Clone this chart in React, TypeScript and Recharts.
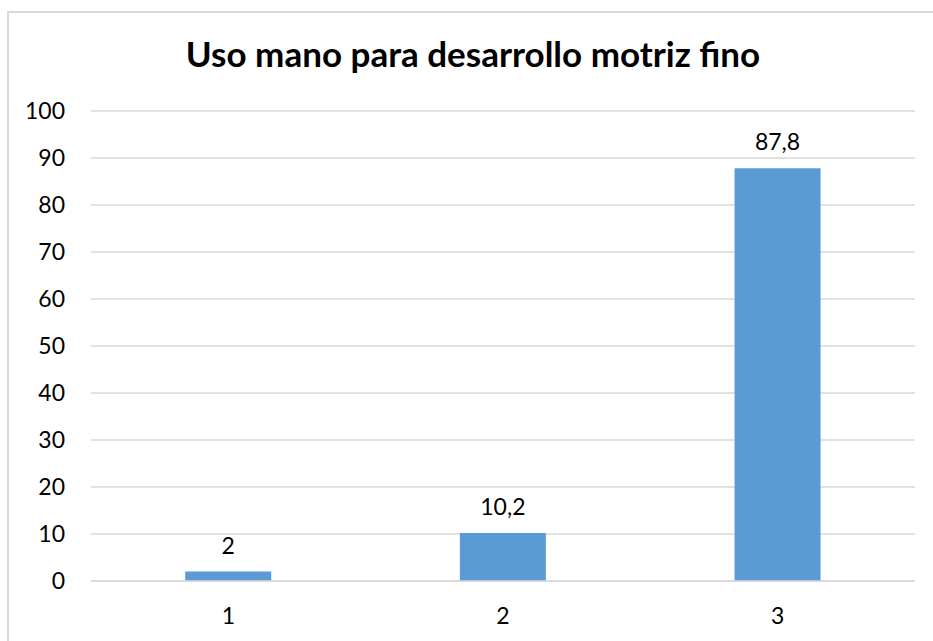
import { BarChart, Bar, XAxis, YAxis, CartesianGrid, LabelList } from 'recharts'

const categories = ['1', '2', '3']
const values = [2, 10.2, 87.8]
const yTicks = [0, 10, 20, 30, 40, 50, 60, 70, 80, 90, 100]
const title = 'Uso mano para desarrollo motriz fino'

const data = categories.map((c, i) => ({ name: c, value: values[i] }))

const FONT = 'Lato, "Open Sans", sans-serif'

export default function App() {
  return (
    <div style={{ position: 'absolute', left: 0, top: 0, width: 933, height: 641, overflow: 'hidden', background: '#fff', fontFamily: FONT }}>
      <div style={{ position: 'absolute', left: 7, top: 11, width: 940, height: 660, border: '2px solid #d9d9d9' }} />
      <div style={{ position: 'absolute', left: 0, width: 946, top: 33, textAlign: 'center', fontSize: 35, fontWeight: 700, color: '#000', lineHeight: '40px' }}>
        {title}
      </div>
      <div style={{ position: 'absolute', left: 0, top: 0 }}>
        <BarChart width={933} height={641} data={data}
          margin={{ top: 111, right: 18, bottom: 0, left: 0 }}
          barCategoryGap='34.3%'>
          <CartesianGrid vertical={false} stroke='#d9d9d9' strokeWidth={1.5} />
          <XAxis dataKey='name' height={60} tickLine={false}
            axisLine={{ stroke: '#d9d9d9', strokeWidth: 1.5 }}
            tick={{ fill: '#000', fontSize: 23, fontFamily: FONT }} tickMargin={21} />
          <YAxis width={91} domain={[0, 100]} ticks={yTicks} interval={0}
            axisLine={false} tickLine={false} tickMargin={20}
            tick={{ fill: '#000', fontSize: 23, fontFamily: FONT }} />
          <Bar dataKey='value' fill='#5B9BD5' isAnimationActive={false}>
            <LabelList dataKey='value' position='top' offset={18}
              formatter={(v: any) => String(v).replace('.', ',')}
              style={{ fill: '#000', fontSize: 23, fontFamily: FONT }} />
          </Bar>
        </BarChart>
      </div>
    </div>
  )
}
